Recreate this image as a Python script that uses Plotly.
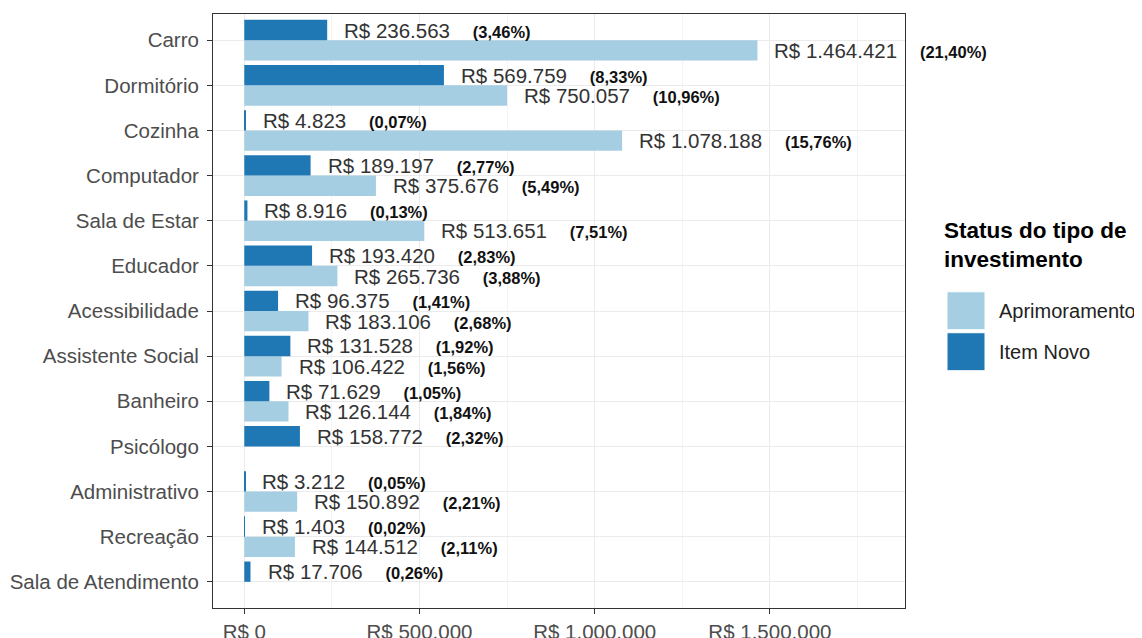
import plotly.graph_objects as go

categories = ["Carro", "Dormitório", "Cozinha", "Computador", "Sala de Estar", "Educador",
              "Acessibilidade", "Assistente Social", "Banheiro", "Psicólogo",
              "Administrativo", "Recreação", "Sala de Atendimento"]
item_novo = [236563, 569759, 4823, 189197, 8916, 193420, 96375, 131528, 71629, 158772, 3212, 1403, 17706]
item_novo_pct = [3.46, 8.33, 0.07, 2.77, 0.13, 2.83, 1.41, 1.92, 1.05, 2.32, 0.05, 0.02, 0.26]
aprimoramento = [1464421, 750057, 1078188, 375676, 513651, 265736, 183106, 106422, 126144, None, 150892, 144512, None]
aprimoramento_pct = [21.40, 10.96, 15.76, 5.49, 7.51, 3.88, 2.68, 1.56, 1.84, None, 2.21, 2.11, None]
x_ticks = [0, 500000, 1000000, 1500000]
x_tick_labels = ["R$ 0", "R$ 500.000", "R$ 1.000.000", "R$ 1.500.000"]

C_NOVO = "#1f78b4"
C_APRIM = "#a6cee3"
FONT = "Liberation Sans"

# page offset from default body margin
OFF = 8
W, H = 1142 - OFF, 638 - OFF
# plot area in page pixels
L, R, T, B = 213, 905, 14, 608.5


def px_x(p):
    return (p - L) / (R - L)


def px_y(p):
    return (B - p) / (B - T)


def brl(v):
    return "R$ " + f"{v:,}".replace(",", ".")


def pct(p):
    return f"({p:.2f}%)".replace(".", ",")


idx = list(range(len(categories)))
bw = 0.45
y_novo = [i - bw / 2 for i in idx]
y_aprim = [i + bw / 2 for i in idx]

fig = go.Figure()
fig.add_trace(go.Bar(y=y_aprim, x=aprimoramento, orientation="h", width=bw,
                     marker=dict(color=C_APRIM, line=dict(width=0)), name="Aprimoramento",
                     showlegend=False))
fig.add_trace(go.Bar(y=y_novo, x=item_novo, orientation="h", width=bw,
                     marker=dict(color=C_NOVO, line=dict(width=0)), name="Item Novo",
                     showlegend=False))

annotations = []
for vals, pcts, ys in [(item_novo, item_novo_pct, y_novo), (aprimoramento, aprimoramento_pct, y_aprim)]:
    for v, p, y in zip(vals, pcts, ys):
        if v is None:
            continue
        txt = (f"<span style='color:#333333'>{brl(v)}</span>    "
               f"<b><span style='font-size:16.5px;color:#111111'>{pct(p)}</span></b>")
        annotations.append(dict(x=v, y=y, xref="x", yref="y", text=txt, showarrow=False,
                                xanchor="left", yanchor="middle", xshift=15,
                                font=dict(family=FONT, size=20.5, color="#333333")))

# legend (ggplot style)
annotations.append(dict(x=px_x(942), y=px_y(216), xref="paper", yref="paper",
                        text="<b>Status do tipo de<br>investimento</b>", showarrow=False,
                        xanchor="left", yanchor="top", align="left",
                        font=dict(family=FONT, size=22.5, color="#000000")))
annotations.append(dict(x=px_x(997), y=px_y(311), xref="paper", yref="paper",
                        text="Aprimoramento", showarrow=False, xanchor="left", yanchor="middle",
                        font=dict(family=FONT, size=20, color="#222222")))
annotations.append(dict(x=px_x(997), y=px_y(352), xref="paper", yref="paper",
                        text="Item Novo", showarrow=False, xanchor="left", yanchor="middle",
                        font=dict(family=FONT, size=20, color="#222222")))

shapes = [
    dict(type="rect", xref="paper", yref="paper", x0=px_x(947), x1=px_x(985),
         y0=px_y(330), y1=px_y(292), fillcolor=C_APRIM, line=dict(width=1, color="white")),
    dict(type="rect", xref="paper", yref="paper", x0=px_x(947), x1=px_x(985),
         y0=px_y(371), y1=px_y(333), fillcolor=C_NOVO, line=dict(width=1, color="white")),
]

fig.update_layout(
    width=W, height=H,
    margin=dict(l=L - OFF, r=W - (R - OFF), t=T - OFF, b=H - (B - OFF), pad=0, autoexpand=False),
    plot_bgcolor="white", paper_bgcolor="white",
    barmode="overlay",
    annotations=annotations, shapes=shapes,
    font=dict(family=FONT, size=20.5, color="#4d4d4d"),
)
fig.update_xaxes(range=[-89300, 1885500], tickmode="array", tickvals=x_ticks, ticktext=x_tick_labels,
                 automargin=False,
                 showgrid=True, gridcolor="#ebebeb", gridwidth=1.2,
                 minor=dict(dtick=250000, tick0=0, showgrid=True, gridcolor="#f4f4f4", gridwidth=0.6, ticks=""),
                 zeroline=False, showline=True, mirror=True, linecolor="#333333", linewidth=1,
                 ticks="outside", ticklen=5, tickcolor="#333333", tickwidth=1,
                 tickfont=dict(family=FONT, size=20.5, color="#4d4d4d"))
fig.update_yaxes(range=[12.58, -0.58], tickmode="array", tickvals=idx, ticktext=categories,
                 automargin=False,
                 showgrid=True, gridcolor="#ebebeb", gridwidth=1.2,
                 zeroline=False, showline=True, mirror=True, linecolor="#333333", linewidth=1,
                 ticks="outside", ticklen=5, tickcolor="#333333", tickwidth=1,
                 ticklabelstandoff=4,
                 tickfont=dict(family=FONT, size=20.5, color="#4d4d4d"))

fig.write_html("out.html")
